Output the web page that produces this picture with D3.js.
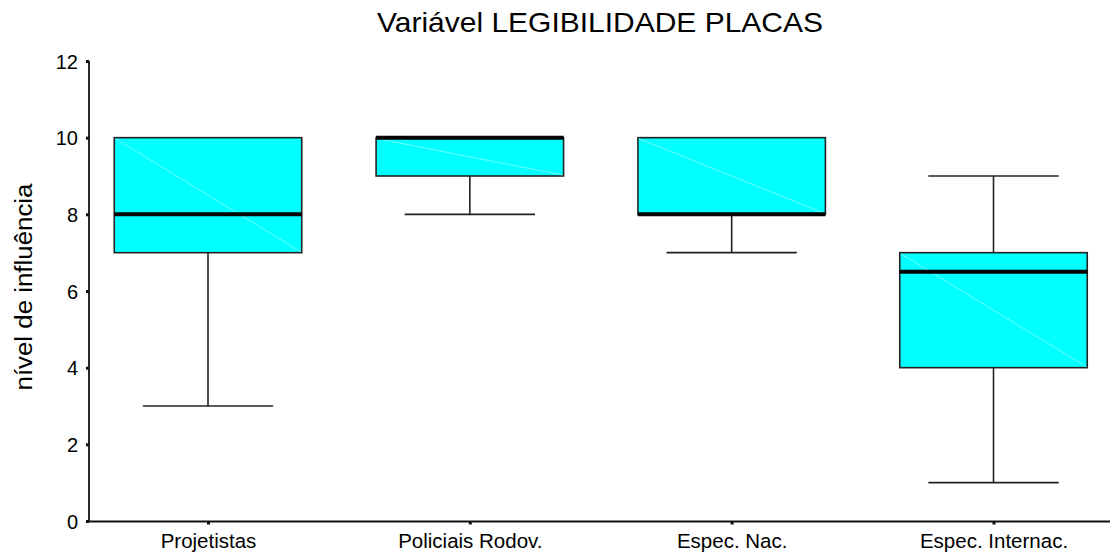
<!DOCTYPE html>
<html>
<head>
<meta charset="utf-8">
<script src="https://cdn.jsdelivr.net/npm/d3@7/dist/d3.min.js"></script>
<style>
  html, body { margin: 0; padding: 0; background: #fff; }
  svg { display: block; font-family: "Liberation Sans", Arial, sans-serif; }
</style>
</head>
<body>
<svg id="chart" width="1110" height="558"></svg>
<script>
// Box-plot summaries for each group of respondents
const categories = ["Projetistas", "Policiais Rodov.", "Espec. Nac.", "Espec. Internac."];
const minValues    = [3, 8, 7, 1];
const q1Values     = [7, 9, 8, 4];
const medianValues = [8, 10, 8, 6.5];
const q3Values     = [10, 10, 10, 7];
const maxValues    = [10, 10, 10, 9];
const yTicks = [0, 2, 4, 6, 8, 10, 12];

const title = "Variável LEGIBILIDADE PLACAS";
const yLabel = "nível de influência";

const svg = d3.select("#chart");
const W = 1110;

const axisX = 89, axisY = 521.5;

const y = d3.scaleLinear().domain([0, 12]).range([521, 61]);
const x = d3.scalePoint().domain(categories).range([208, 993.5]);
const step = x.step();
const boxHalf = step * 0.358;
const capHalf = step * 0.249;

const rows = categories.map((c, i) => ({
  cat: c, min: minValues[i], q1: q1Values[i], med: medianValues[i],
  q3: q3Values[i], max: maxValues[i]
}));

// Title
svg.append("text")
  .attr("x", 600).attr("y", 32)
  .attr("text-anchor", "middle")
  .attr("font-size", 28)
  .attr("textLength", 446).attr("lengthAdjust", "spacingAndGlyphs")
  .attr("fill", "#000")
  .text(title);

// Y axis label
svg.append("text")
  .attr("transform", "translate(32,287) rotate(-90)")
  .attr("text-anchor", "middle")
  .attr("font-size", 23)
  .attr("textLength", 207).attr("lengthAdjust", "spacingAndGlyphs")
  .attr("fill", "#000")
  .text(yLabel);

const g = svg.append("g");

// Whiskers and caps
rows.forEach(d => {
  const cx = x(d.cat);
  const wg = g.append("g").attr("stroke", "#222").attr("stroke-width", 1.6);
  if (d.min < d.q1) {
    wg.append("line").attr("x1", cx).attr("x2", cx).attr("y1", y(d.q1)).attr("y2", y(d.min));
    wg.append("line").attr("x1", cx - capHalf).attr("x2", cx + capHalf).attr("y1", y(d.min)).attr("y2", y(d.min));
  }
  if (d.max > d.q3) {
    wg.append("line").attr("x1", cx).attr("x2", cx).attr("y1", y(d.q3)).attr("y2", y(d.max));
    wg.append("line").attr("x1", cx - capHalf).attr("x2", cx + capHalf).attr("y1", y(d.max)).attr("y2", y(d.max));
  }
});

// Boxes
rows.forEach(d => {
  const cx = x(d.cat);
  const x0 = cx - boxHalf, x1 = cx + boxHalf;
  const yt = y(d.q3), yb = y(d.q1);
  g.append("rect")
    .attr("x", x0).attr("y", yt)
    .attr("width", x1 - x0).attr("height", yb - yt)
    .attr("fill", "#00ffff")
    .attr("stroke", "#222").attr("stroke-width", 1.6);
  // faint diagonal shading seam across the box
  g.append("line")
    .attr("x1", x0 + 1).attr("y1", yt + 1)
    .attr("x2", x1 - 1).attr("y2", yb - 1)
    .attr("stroke", "#b8fdff").attr("stroke-width", 0.6);
  // median
  g.append("line")
    .attr("x1", x0).attr("x2", x1)
    .attr("y1", y(d.med)).attr("y2", y(d.med))
    .attr("stroke", "#000").attr("stroke-width", 4);
});

// Axes
const yAxis = d3.axisLeft(y).tickValues(yTicks).tickSize(3).tickPadding(8).tickSizeOuter(0);
const yg = svg.append("g").attr("transform", `translate(${axisX},0)`).call(yAxis);
yg.select(".domain").attr("stroke", "#111").attr("stroke-width", 1.8)
  .attr("d", `M0,${y(12)}V${axisY}`);
yg.selectAll(".tick line").attr("stroke", "#111").attr("stroke-width", 3).attr("x2", -3);
yg.selectAll(".tick text").attr("font-size", 20).attr("fill", "#000")
  .attr("font-family", "Liberation Sans, Arial, sans-serif").attr("dy", "0.36em");

const xAxis = d3.axisBottom(x).tickSize(3).tickPadding(9).tickSizeOuter(0);
const xg = svg.append("g").attr("transform", `translate(0,${axisY})`).call(xAxis);
xg.select(".domain").attr("stroke", "#111").attr("stroke-width", 1.8)
  .attr("d", `M${axisX},0H${W}`);
xg.selectAll(".tick line").attr("stroke", "#111").attr("stroke-width", 3);
xg.selectAll(".tick text").attr("font-size", 20.5).attr("fill", "#000")
  .attr("font-family", "Liberation Sans, Arial, sans-serif");
</script>
</body>
</html>
